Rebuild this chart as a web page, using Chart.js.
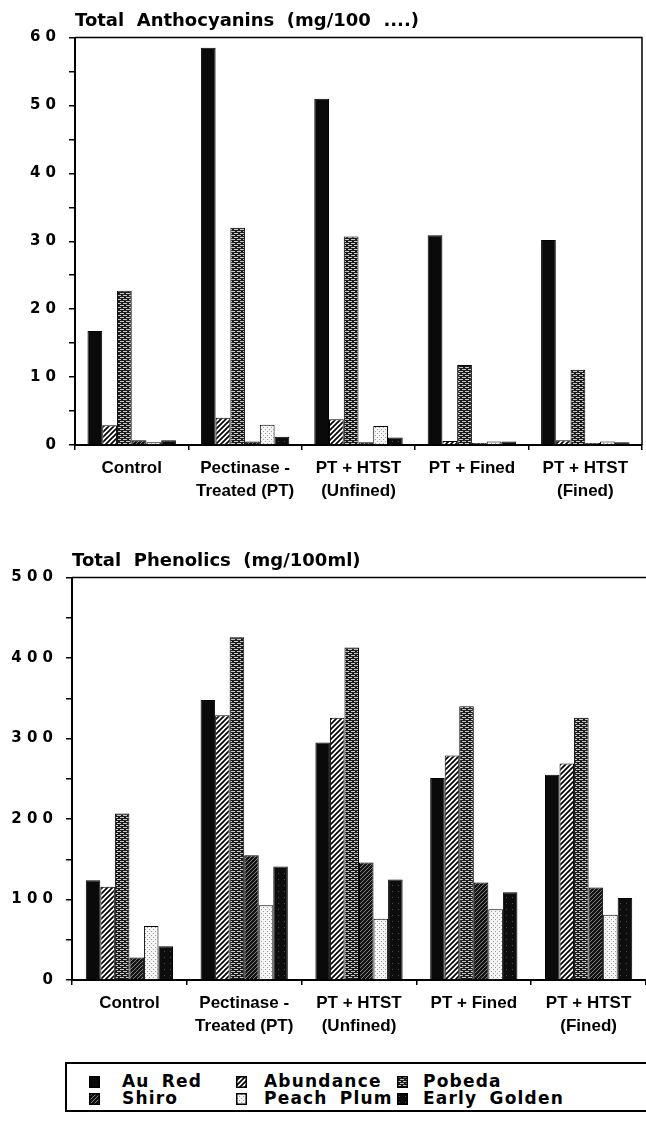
<!DOCTYPE html>
<html><head><meta charset="utf-8">
<script src="https://cdn.jsdelivr.net/npm/chart.js@4.4.0/dist/chart.umd.min.js"></script>
<style>
html,body{margin:0;padding:0;background:#fff;width:646px;height:1121px;overflow:hidden;position:relative;}
#w1{position:absolute;left:0;top:0;width:646px;height:520px;}
#w2{position:absolute;left:0;top:540px;width:646px;height:515px;}
#legend{position:absolute;left:65px;top:1062px;width:600px;height:50px;border:2px solid #000;border-right:none;box-sizing:border-box;font:bold 17px 'DejaVu Sans',sans-serif;letter-spacing:1.2px;word-spacing:5px;color:#000;}
.sw{position:absolute;width:11px;height:12px;}
.lt{position:absolute;white-space:pre;line-height:17px;}
</style>
</head><body>
<div id="w1"><canvas id="c1" width="646" height="520"></canvas></div>
<div id="w2"><canvas id="c2" width="646" height="515"></canvas></div>
<div id="legend"></div>
<script>
// ---- data ----
const categories = [['Control'], ['Pectinase -', 'Treated (PT)'], ['PT + HTST', '(Unfined)'], ['PT + Fined'], ['PT + HTST', '(Fined)']];
const seriesNames = ['Au Red', 'Abundance', 'Pobeda', 'Shiro', 'Peach Plum', 'Early Golden'];

// Total Anthocyanins (mg/100 ml)
const auRedA       = [16.8, 58.5, 51.0, 30.9, 30.2];
const abundanceA   = [2.9, 4.0, 3.8, 0.6, 0.7];
const pobedaA      = [22.7, 32.0, 30.7, 11.8, 11.1];
const shiroA       = [0.7, 0.5, 0.4, 0.3, 0.3];
const peachPlumA   = [0.4, 3.0, 2.8, 0.5, 0.5];
const earlyGoldenA = [0.7, 1.2, 1.1, 0.5, 0.4];

// Total Phenolics (mg/100ml)
const auRedP       = [124, 348, 295, 251, 255];
const abundanceP   = [116, 329, 326, 279, 269];
const pobedaP      = [207, 426, 413, 340, 326];
const shiroP       = [28, 155, 146, 121, 115];
const peachPlumP   = [67, 93, 76, 88, 81];
const earlyGoldenP = [42, 141, 125, 109, 102];

const anthoTickLabels = ['0', '1 0', '2 0', '3 0', '4 0', '5 0', '6 0'];
const phenTickLabels  = ['0', '1 0 0', '2 0 0', '3 0 0', '4 0 0', '5 0 0'];

const titleA = 'Total  Anthocyanins  (mg/100  ....)';
const titleP = 'Total  Phenolics  (mg/100ml)';

// ---- patterns ----
function mk(w, h, draw) { const c = document.createElement('canvas'); c.width = w; c.height = h; const x = c.getContext('2d'); draw(x, w, h); return c; }
const tiles = [
  mk(4, 4, x => { x.fillStyle = '#0a0a0a'; x.fillRect(0, 0, 4, 4); }),
  mk(5, 5, x => { x.fillStyle = '#fff'; x.fillRect(0, 0, 5, 5); x.strokeStyle = '#000'; x.lineWidth = 1.7; x.beginPath();
    x.moveTo(-1, 6); x.lineTo(6, -1); x.moveTo(-3.5, 3.5); x.lineTo(3.5, -3.5); x.moveTo(1.5, 8.5); x.lineTo(8.5, 1.5); x.stroke(); }),
  mk(6, 4, x => { x.fillStyle = '#1c1c1c'; x.fillRect(0, 0, 6, 4); x.fillStyle = '#c8c8c8'; x.fillRect(0, 1, 4, 1); x.fillRect(3, 3, 3, 1); x.fillRect(0, 3, 1, 1); }),
  mk(4, 4, x => { x.fillStyle = '#141414'; x.fillRect(0, 0, 4, 4); x.strokeStyle = '#9a9a9a'; x.lineWidth = 0.8; x.beginPath();
    x.moveTo(0, 4); x.lineTo(4, 0); x.stroke(); }),
  mk(4, 4, x => { x.fillStyle = '#f4f4f4'; x.fillRect(0, 0, 4, 4); x.fillStyle = '#a0a0a0'; x.fillRect(1, 1, 1, 1); x.fillRect(3, 3, 1, 1); }),
  mk(6, 6, x => { x.fillStyle = '#0d0d0d'; x.fillRect(0, 0, 6, 6); x.fillStyle = '#4a4a4a'; x.fillRect(2, 3, 1, 1); })
];
const ctxTmp = document.createElement('canvas').getContext('2d');
const pats = tiles.map(t => ctxTmp.createPattern(t, 'repeat'));

// ---- plugins ----
const frame = { id: 'frame', afterDraw(chart, args, opts) {
  const { ctx, chartArea: a } = chart; ctx.save(); ctx.strokeStyle = '#000'; ctx.lineWidth = 1.5;
  ctx.beginPath(); ctx.moveTo(a.left, a.top); ctx.lineTo(a.right, a.top);
  if (opts.right) ctx.lineTo(a.right, a.bottom);
  ctx.stroke(); ctx.restore(); } };

function build(id, seriesArr, tickLabels, step, max, title, leftW, padRight, catPct, rightFrame) {
  const datasets = seriesArr.map((d, i) => ({ label: seriesNames[i], data: d, backgroundColor: pats[i], borderColor: '#000', borderWidth: 1, borderSkipped: 'bottom', barPercentage: 1.0, categoryPercentage: catPct }));
  return new Chart(document.getElementById(id), {
    type: 'bar',
    data: { labels: categories, datasets },
    plugins: [frame],
    options: {
      responsive: false, animation: false, devicePixelRatio: 1,
      layout: { padding: { left: 0, right: padRight, top: 0, bottom: 0 } },
      plugins: {
        legend: { display: false }, tooltip: { enabled: false },
        frame: { right: rightFrame },
        title: { display: true, text: title, align: 'start', fullSize: false, color: '#000',
          font: { family: 'DejaVu Sans', weight: 'bold', size: 18 }, padding: { top: 11, bottom: 5 } }
      },
      scales: {
        x: {
          offset: true,
          grid: { display: true, offset: true, drawOnChartArea: false, drawTicks: true, tickLength: 5, color: '#000', lineWidth: 1.5 },
          border: { display: true, color: '#000', width: 2 },
          ticks: { color: '#000', padding: 6, maxRotation: 0, autoSkip: false, font: { family: 'Liberation Sans', weight: 'bold', size: 17, lineHeight: 1.4 } },
          afterFit(s) { s.height = 75; }
        },
        y: {
          min: 0, max: max,
          grid: { display: true, drawOnChartArea: false, drawTicks: true, tickLength: 6, color: '#000', lineWidth: 1.5 },
          border: { display: true, color: '#000', width: 2 },
          ticks: { stepSize: step / 2, color: '#000', padding: 13, font: { family: 'DejaVu Sans', weight: 'bold', size: 15 },
            callback: (v) => { const k = Math.round(v / step * 1000) / 1000; return Number.isInteger(k) ? tickLabels[k] : ''; } },
          afterFit(s) { s.width = leftW; }
        }
      }
    }
  });
}

build('c1', [auRedA, abundanceA, pobedaA, shiroA, peachPlumA, earlyGoldenA], anthoTickLabels, 10, 60, titleA, 75, 4, 0.78, true);
build('c2', [auRedP, abundanceP, pobedaP, shiroP, peachPlumP, earlyGoldenP], phenTickLabels, 100, 500, titleP, 72, 0, 0.76, false);

// ---- legend ----
const lg = document.getElementById('legend');
const swX = [22, 169, 330], txX = [55, 197, 356], rowY = [18, 35];
seriesNames.forEach((n, i) => {
  const col = i % 3, row = Math.floor(i / 3);
  const c = document.createElement('canvas'); c.width = 11; c.height = 12; c.className = 'sw';
  c.style.left = swX[col] + 'px'; c.style.top = (rowY[row] - 6) + 'px';
  const x = c.getContext('2d'); x.fillStyle = pats[i]; x.fillRect(0, 0, 11, 12); x.strokeStyle = '#000'; x.lineWidth = 1.5; x.strokeRect(0.75, 0.75, 9.5, 10.5);
  lg.appendChild(c);
  const t = document.createElement('div'); t.className = 'lt'; t.textContent = n;
  t.style.left = txX[col] + 'px'; t.style.top = (rowY[row] - 9) + 'px';
  lg.appendChild(t);
});
</script>
</body></html>
